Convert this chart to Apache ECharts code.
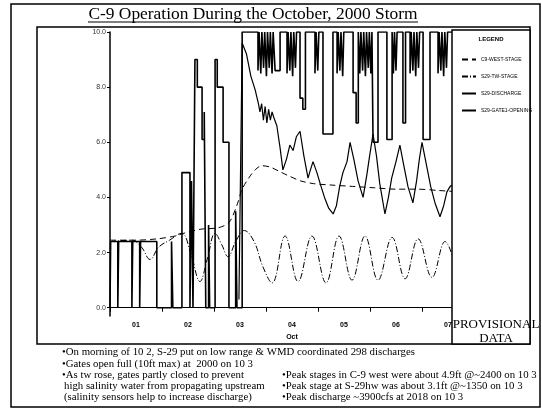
<!DOCTYPE html>
<html>
<head>
<meta charset="utf-8">
<script src="https://cdn.jsdelivr.net/npm/echarts@6/dist/echarts.min.js"></script>
<style>
  html, body { margin: 0; padding: 0; background: #fff; }
  #chart { width: 542px; height: 410px; }
</style>
</head>
<body>
<div id="chart"></div>
<script>
// hours since Oct 1 00:00
const dayLabels = ['01', '02', '03', '04', '05', '06', '07'];
const yTicks = [0, 2, 4, 6, 8, 10];

// gate opening (ft), values as [hour, opening], held until next point
const gateOpening = [
  [0, 0], [0.3, 2.4], [3.6, 0], [4.0, 2.4], [10.1, 0], [10.5, 2.4], [13.7, 0], [14.1, 2.4], [21.6, 0],
  [28.4, 2.4], [29.0, 0],
  [33.2, 4.9], [36.9, 0], [37.6, 4.6], [38.3, 0], [39.2, 9.0], [40.3, 8.0], [42.5, 6.1], [43.5, 7.1], [44.2, 0],
  [45.5, 3.0], [46.0, 0],
  [48.5, 9.0], [49.5, 8.0], [52.2, 6.0], [54.9, 0],
  [58.0, 3.5], [58.6, 0],
  [61.0, 10],
  [68.3, 8.6], [68.8, 10], [69.6, 8.5], [70.1, 10], [70.9, 8.7], [71.4, 10], [72.2, 8.4], [72.7, 10], [73.5, 8.7], [74.0, 10], [74.8, 8.5], [75.3, 10],
  [76.2, 8.6], [78.5, 10],
  [81.7, 8.5], [82.2, 10], [83.0, 8.6], [83.5, 10], [84.3, 8.4], [84.8, 10], [85.6, 8.7], [86.1, 10],
  [87.7, 7.6], [89.0, 7.2], [90.2, 10],
  [94.6, 8.5], [95.1, 10], [95.9, 8.6], [96.4, 10],
  [98.3, 6.3], [102.9, 10],
  [104.8, 8.5], [105.3, 10], [106.1, 8.6], [106.6, 10], [107.4, 8.4], [107.9, 10],
  [112.2, 7.8], [113.6, 6.7], [114.6, 10], [115.3, 8.5], [115.8, 10], [116.6, 8.6], [117.1, 10], [117.9, 8.4], [118.4, 10], [119.2, 8.7], [119.7, 10], [120.4, 8.5], [120.9, 10],
  [121.4, 6.0], [123.7, 10],
  [127.8, 6.1], [130.2, 10], [130.8, 8.5], [131.3, 10], [132.0, 8.6], [132.5, 10],
  [135.2, 6.7], [136.4, 10],
  [138.5, 8.5], [139.0, 10], [139.8, 8.6], [140.3, 10], [141.1, 8.4], [141.6, 10], [142.4, 8.7], [142.9, 10],
  [144.5, 6.1], [147.7, 10],
  [151.4, 8.5], [151.9, 10], [152.7, 8.6], [153.2, 10], [154.0, 8.4], [154.5, 10], [155.3, 8.7], [155.8, 10],
  [168, 10]
];

const discharge = [
  [59.5, 0.3], [61, 9.6], [63, 9.2], [65, 8.4], [67, 7.9], [68.5, 7.4], [69.2, 7.1], [70, 7.4], [70.8, 6.8],
  [71.6, 7.3], [72.4, 6.7], [73.2, 7.2], [74, 6.8], [74.8, 7.1], [75.6, 6.9], [77, 6.6], [78.5, 5.8], [79.8, 5.0],
  [81.5, 5.4], [83, 5.9], [84.5, 5.7], [86, 6.2], [87.7, 6.4], [89.5, 5.5], [91.4, 4.7], [92.5, 5.0], [93.7, 5.3],
  [95.5, 4.9], [97, 4.5], [99, 4.0], [101, 3.6], [103, 3.4], [104.5, 3.7], [106, 4.4], [107.5, 4.9], [109.4, 5.3],
  [110.8, 6.0], [112.5, 5.4], [114.5, 4.6], [116.8, 4.0], [118.5, 4.8], [120, 5.6], [121.4, 6.3], [123, 5.5],
  [124.5, 4.5], [126.9, 3.4], [128.5, 4.0], [130, 4.7], [132, 5.3], [133.8, 5.9], [135.5, 5.2], [137.5, 4.4],
  [139.8, 3.8], [141.5, 4.6], [142.8, 5.4], [144, 6.0], [146, 5.2], [148, 4.4], [150, 3.8], [152.3, 3.3],
  [154, 3.7], [155.5, 4.2], [157, 4.4], [162, 4.6]
];

const westStage = [
  [0, 2.45], [12, 2.45], [22, 2.5], [30, 2.6], [34, 2.7], [42, 2.85], [50, 2.9], [55, 3.1], [58.5, 3.7],
  [61, 4.3], [64, 4.7], [67, 5.0], [70, 5.15], [74, 5.1], [78, 4.95], [82, 4.8], [88, 4.6], [94, 4.5],
  [102, 4.45], [112, 4.4], [122, 4.35], [132, 4.3], [142, 4.3], [152, 4.25], [162, 4.2]
];

const twStage = [
  [0, 2.4], [10, 2.45], [14.5, 2.2], [18.5, 1.75], [22.5, 2.2], [27.5, 2.45], [33, 2.7], [37.5, 1.9],
  [41.5, 0.95], [45, 1.8], [48.5, 2.7], [51.5, 2.3], [54.5, 1.85], [58, 2.4], [62, 2.8], [66.5, 2.4],
  [70.5, 1.5], [74.8, 0.9], [80.8, 2.6], [86.8, 0.95], [93.2, 2.6], [99.7, 0.9], [105.7, 2.6], [111.7, 1.0],
  [117.7, 2.6], [123.7, 1.0], [130.2, 2.55], [136.2, 1.05], [142.2, 2.5], [148.6, 1.1], [154.6, 2.4], [160.6, 1.1]
];

const notesLeft = [
  '•On morning of 10 2, S-29 put on low range & WMD coordinated 298 discharges',
  '•Gates open full (10ft max) at  2000 on 10 3',
  '•As tw rose, gates partly closed to prevent',
  'high salinity water from propagating upstream',
  '(salinity sensors help to increase discharge)'
];
const notesRight = [
  '•Peak stages in C-9 west were about 4.9ft @~2400 on 10 3',
  '•Peak stage at S-29hw was about 3.1ft @~1350 on 10 3',
  '•Peak discharge ~3900cfs at 2018 on 10 3'
];

const serif = '"Liberation Serif", "DejaVu Serif", serif';
const chart = echarts.init(document.getElementById('chart'));

const graphics = [
  // frames
  { type: 'rect', z: 1, shape: { x: 11, y: 4, width: 529, height: 403 }, style: { fill: null, stroke: '#000', lineWidth: 1.5 } },
  { type: 'rect', z: 1, shape: { x: 37, y: 27, width: 493, height: 317 }, style: { fill: null, stroke: '#000', lineWidth: 1.5 } },
  // title
  { type: 'text', z: 1, x: 253, y: 14, style: { text: 'C-9 Operation During the October, 2000 Storm', font: '17.4px ' + serif, fill: '#000', align: 'center', verticalAlign: 'middle' } },
  { type: 'line', z: 1, shape: { x1: 88, y1: 22, x2: 418, y2: 22 }, style: { stroke: '#000', lineWidth: 1 } },
  // legend panel
  { type: 'rect', z: 100, shape: { x: 452, y: 30, width: 78, height: 314 }, style: { fill: '#fff', stroke: '#000', lineWidth: 1.5 } },
  { type: 'text', z: 101, x: 491, y: 39, style: { text: 'LEGEND', font: 'bold 6px sans-serif', fill: '#000', align: 'center', verticalAlign: 'middle' } },
  { type: 'text', z: 101, x: 496, y: 325, style: { text: 'PROVISIONAL', font: '13px ' + serif, fill: '#000', align: 'center', verticalAlign: 'middle' } },
  { type: 'text', z: 101, x: 496, y: 339, style: { text: 'DATA', font: '13px ' + serif, fill: '#000', align: 'center', verticalAlign: 'middle' } }
];
notesLeft.forEach((t, i) => {
  graphics.push({ type: 'text', z: 1, x: i < 3 ? 62 : 64, y: 352.5 + i * 11.2,
    style: { text: t, font: '10.8px ' + serif, fill: '#000', verticalAlign: 'middle' } });
});
notesRight.forEach((t, i) => {
  graphics.push({ type: 'text', z: 1, x: 282, y: 352.5 + (i + 2) * 11.2,
    style: { text: t, font: '10.8px ' + serif, fill: '#000', verticalAlign: 'middle' } });
});

chart.setOption({
  animation: false,
  backgroundColor: '#fff',
  grid: { left: 110, right: 68, top: 32, bottom: 94 },
  legend: {
    z: 110,
    orient: 'vertical',
    left: 456,
    top: 52,
    itemWidth: 14,
    itemHeight: 6,
    itemGap: 12,
    itemStyle: { opacity: 0 },
    textStyle: { fontSize: 5, color: '#000' },
    data: ['C9-WEST-STAGE', 'S29-TW-STAGE', 'S29-DISCHARGE', 'S29-GATE1-OPENING']
  },
  xAxis: {
    type: 'value',
    min: 0,
    max: 168,
    name: 'Oct',
    nameLocation: 'middle',
    nameGap: 18,
    nameTextStyle: { fontSize: 7, color: '#000', fontWeight: 'bold' },
    axisLine: { lineStyle: { color: '#000', width: 1.2 } },
    axisTick: { customValues: [0, 24, 48, 72, 96, 120, 144, 168], length: 4, lineStyle: { color: '#000' } },
    axisLabel: {
      customValues: dayLabels.map((d, i) => 12 + i * 24),
      formatter: v => dayLabels[Math.round((v - 12) / 24)],
      fontSize: 7, fontWeight: 'bold', color: '#000', margin: 6
    },
    splitLine: { show: false }
  },
  yAxis: {
    type: 'value',
    min: -0.3,
    max: 10,
    axisLine: { show: true, lineStyle: { color: '#000', width: 1.5 } },
    axisTick: { show: true, customValues: yTicks, length: 3, lineStyle: { color: '#000' } },
    axisLabel: { customValues: yTicks, formatter: v => v.toFixed(1), fontSize: 7, color: '#333', margin: 4 },
    splitLine: { show: false }
  },
  series: [
    {
      name: 'C9-WEST-STAGE', type: 'line', data: westStage, symbol: 'none', smooth: 0.3,
      lineStyle: { color: '#000', width: 1, type: [6, 4] }, itemStyle: { color: '#000' }
    },
    {
      name: 'S29-TW-STAGE', type: 'line', data: twStage, symbol: 'none', smooth: 0.4,
      lineStyle: { color: '#000', width: 1, type: [6, 2, 1, 2] }, itemStyle: { color: '#000' }
    },
    {
      name: 'S29-DISCHARGE', type: 'line', data: discharge, symbol: 'none',
      lineStyle: { color: '#000', width: 1.2 }, itemStyle: { color: '#000' }
    },
    {
      name: 'S29-GATE1-OPENING', type: 'line', data: gateOpening, symbol: 'none', step: 'end',
      lineStyle: { color: '#000', width: 1.6 }, itemStyle: { color: '#000' }
    }
  ],
  graphic: graphics
});
</script>
</body>
</html>
